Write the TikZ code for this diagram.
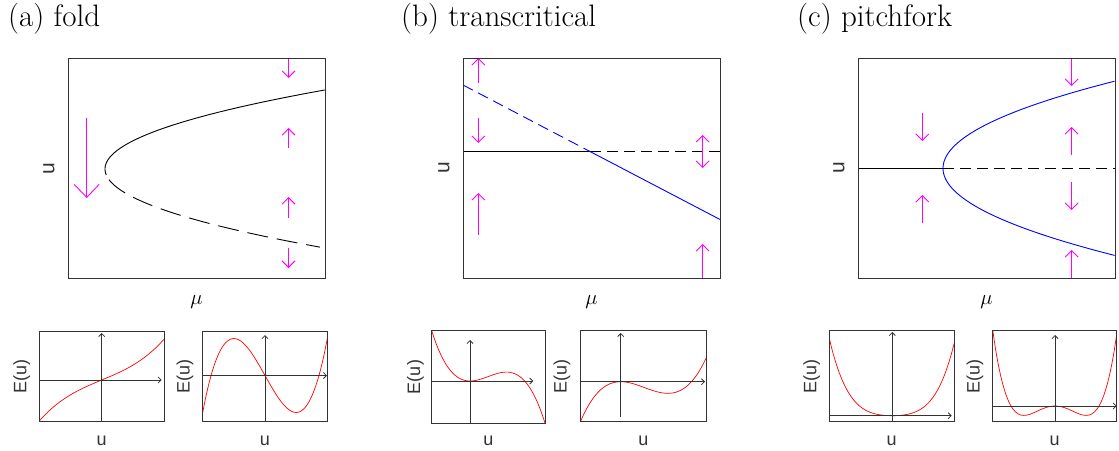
\documentclass[tikz,border=0pt]{standalone}
\usepackage{fontspec}
\usepackage{tikz}
\usetikzlibrary{arrows.meta}
\newfontfamily\axisfont{Liberation Sans}
\definecolor{flowMagenta}{HTML}{FF00FF}
\definecolor{branchBlue}{HTML}{0000FF}
\definecolor{energyRed}{HTML}{FF0000}
\definecolor{frameGrey}{HTML}{333333}

\begin{document}
\begin{tikzpicture}[
  x=1pt, y=-1pt,
  plotframe/.style={draw=frameGrey,line width=0.9pt},
  branch/.style={line width=0.9pt},
  unstable/.style={dash pattern=on 11pt off 6pt},
  flow/.style={draw=flowMagenta,line width=0.9pt,-{Straight Barb[length=6.5pt,width=13pt]}},
  bothflow/.style={draw=flowMagenta,line width=0.9pt,{Straight Barb[length=6.5pt,width=13pt]}-{Straight Barb[length=6.5pt,width=13pt]}},
  bigflow/.style={draw=flowMagenta,line width=0.9pt,-{Straight Barb[length=13pt,width=25pt]}},
  energy/.style={energyRed,line width=0.7pt},
  eaxis/.style={draw=frameGrey,line width=0.8pt,-{Straight Barb[length=3pt,width=6pt]}},
  paneltitle/.style={font=\fontsize{31}{36}\selectfont,anchor=base west,inner sep=0pt},
  ylbl/.style={font=\axisfont\fontsize{21}{24}\selectfont,text=frameGrey,rotate=90,inner sep=0pt},
  mulbl/.style={font=\fontsize{21}{24}\selectfont,inner sep=0pt},
  elbl/.style={font=\axisfont\fontsize{18}{22}\selectfont,text=frameGrey,inner sep=0pt}
]
  \useasboundingbox (0,0) rectangle (1119,450);

  % --- (a) fold ---
  \node[paneltitle] (titleA) at (8,26) {(a) fold};
  \draw[branch] plot[domain=-1.1:14.83,samples=60,smooth] ({105+\x*\x},{169-5.33*\x});
  \draw[branch,dash pattern=on 21pt off 9pt] plot[domain=2:14.66,samples=60,smooth] ({105+\x*\x},{169+5.33*\x});
  \draw[bigflow] (86.7,118) -- (86.7,198);
  \draw[flow] (288.5,58) -- (288.5,78);
  \draw[flow] (288.5,148) -- (288.5,128);
  \draw[flow] (288.5,218) -- (288.5,197);
  \draw[flow] (288.5,248) -- (288.5,268);
  \draw[plotframe] (68,58) rectangle (325,278);
  \node[ylbl] (uA) at (49,169) {u};
  \node[mulbl] (muA) at (196.5,302) {$\mu$};

  % --- (b) transcritical ---
  \node[paneltitle] (titleB) at (401,26) {(b) transcritical};
  \draw[branch] (463,151.5) -- (590,151.5);
  \draw[branch,unstable] (590,151.5) -- (720,151.5);
  \draw[branch,branchBlue,unstable] (463,85) -- (590,151.5);
  \draw[branch,branchBlue] (590,151.5) -- (720,219.5);
  \draw[flow] (478.3,83) -- (478.3,58);
  \draw[flow] (478.3,118) -- (478.3,143);
  \draw[flow] (478.3,235) -- (478.3,193);
  \draw[bothflow] (702.7,135) -- (702.7,168);
  \draw[flow] (702.7,278) -- (702.7,244);
  \draw[plotframe] (463,58) rectangle (720,278);
  \node[ylbl] (uB) at (444,168) {u};
  \node[mulbl] (muB) at (591.5,302) {$\mu$};

  % --- (c) pitchfork ---
  \node[paneltitle] (titleC) at (797,26) {(c) pitchfork};
  \draw[branch] (858,168.3) -- (943,168.3);
  \draw[branch,unstable] (943,168.3) -- (1115,168.3);
  \draw[branch,branchBlue] plot[domain=-13.1:13.1,samples=80,smooth] ({943+\x*\x},{168.3-6.65*\x});
  \draw[flow] (922.3,113) -- (922.3,141);
  \draw[flow] (922.3,223) -- (922.3,195);
  \draw[flow] (1071.7,58) -- (1071.7,86);
  \draw[flow] (1071.7,155) -- (1071.7,127);
  \draw[flow] (1071.7,182) -- (1071.7,210);
  \draw[flow] (1071.7,278) -- (1071.7,250);
  \draw[plotframe] (858,58) rectangle (1115,278);
  \node[ylbl] (uC) at (839,168) {u};
  \node[mulbl] (muC) at (986.5,302) {$\mu$};

  % --- energy sketches, fold ---
  \begin{scope}[shift={(101.7,380)}]
    \clip (-62.4,-49) rectangle (62.3,41);
    \draw[energy] plot[domain=-1:1,samples=50,smooth] ({62.5*\x},{-(26*\x+15*\x*\x*\x)});
  \end{scope}
  \draw[plotframe] (39.3,331) rectangle (164,421);
  \draw[eaxis] (101.7,421) -- (101.7,333);
  \draw[eaxis] (39.3,380) -- (161.7,380);
  \node[elbl,rotate=90] (EA1) at (21.8,376) {E(u)};
  \node[elbl] (uA1) at (101.7,440.5) {u};

  \begin{scope}[shift={(265,375.5)}]
    \clip (-62.3,-44.5) rectangle (62,45.5);
    \draw[energy] plot[domain=-1:1,samples=50,smooth] ({62.3*\x},{-(148*\x*\x*\x-111*\x)});
  \end{scope}
  \draw[plotframe] (202.7,331) rectangle (327,421);
  \draw[eaxis] (265,421) -- (265,335);
  \draw[eaxis] (202.7,375.5) -- (327,375.5);
  \node[elbl,rotate=90] (EA2) at (185,376) {E(u)};
  \node[elbl] (uA2) at (264.8,440.5) {u};

  % --- energy sketches, transcritical ---
  \begin{scope}[shift={(470,381)}]
    \clip (-38.3,-50.3) rectangle (75,42.3);
    \draw[energy] plot[domain=-0.77:1.5,samples=50,smooth] ({50*\x},{-(50.4*\x*\x-46.1*\x*\x*\x)});
  \end{scope}
  \draw[plotframe] (431.7,330.7) rectangle (545,423.3);
  \draw[eaxis] (470,423.3) -- (470,340);
  \draw[eaxis] (431.7,381) -- (533.3,381);
  \node[elbl,rotate=90] (EB1) at (415.5,377) {E(u)};
  \node[elbl] (uB1) at (488.3,440.5) {u};

  \begin{scope}[shift={(620.7,381.7)}]
    \clip (-40,-51.7) rectangle (85.3,39.3);
    \draw[energy] plot[domain=-0.8:1.706,samples=50,smooth] ({50*\x},{-(-39.2*\x*\x+27.7*\x*\x*\x)});
  \end{scope}
  \draw[plotframe] (580.7,330) rectangle (706,421);
  \draw[eaxis] (620.7,417) -- (620.7,333);
  \draw[eaxis] (580.7,381.7) -- (705,381.7);
  \node[elbl,rotate=90] (EB2) at (562,376) {E(u)};
  \node[elbl] (uB2) at (643.3,440.5) {u};

  % --- energy sketches, pitchfork ---
  \begin{scope}[shift={(892.3,415.7)}]
    \clip (-63,-85.7) rectangle (61.7,5.3);
    \draw[energy] plot[domain=-1.01:0.99,samples=50,smooth] ({62.5*\x},{-(20.2*\x*\x+54.8*\x*\x*\x*\x)});
  \end{scope}
  \draw[plotframe] (829.3,330) rectangle (954,421);
  \draw[eaxis] (892.3,421) -- (892.3,332);
  \draw[eaxis] (829.3,415.7) -- (951.7,415.7);
  \node[elbl,rotate=90] (EC1) at (811.7,376) {E(u)};
  \node[elbl] (uC1) at (891.7,440.5) {u};

  \begin{scope}[shift={(1055,406)}]
    \clip (-62.7,-76) rectangle (61.7,15);
    \draw[energy] plot[domain=-1:1,samples=50,smooth] ({62.2*\x},{-(-75.3*\x*\x+150.6*\x*\x*\x*\x)});
  \end{scope}
  \draw[plotframe] (992.3,330) rectangle (1116.7,421);
  \draw[eaxis] (1055,421) -- (1055,335);
  \draw[eaxis] (992.3,406) -- (1116.7,406);
  \node[elbl,rotate=90] (EC2) at (975,376) {E(u)};
  \node[elbl] (uC2) at (1054.5,440.5) {u};
\end{tikzpicture}
\end{document}
